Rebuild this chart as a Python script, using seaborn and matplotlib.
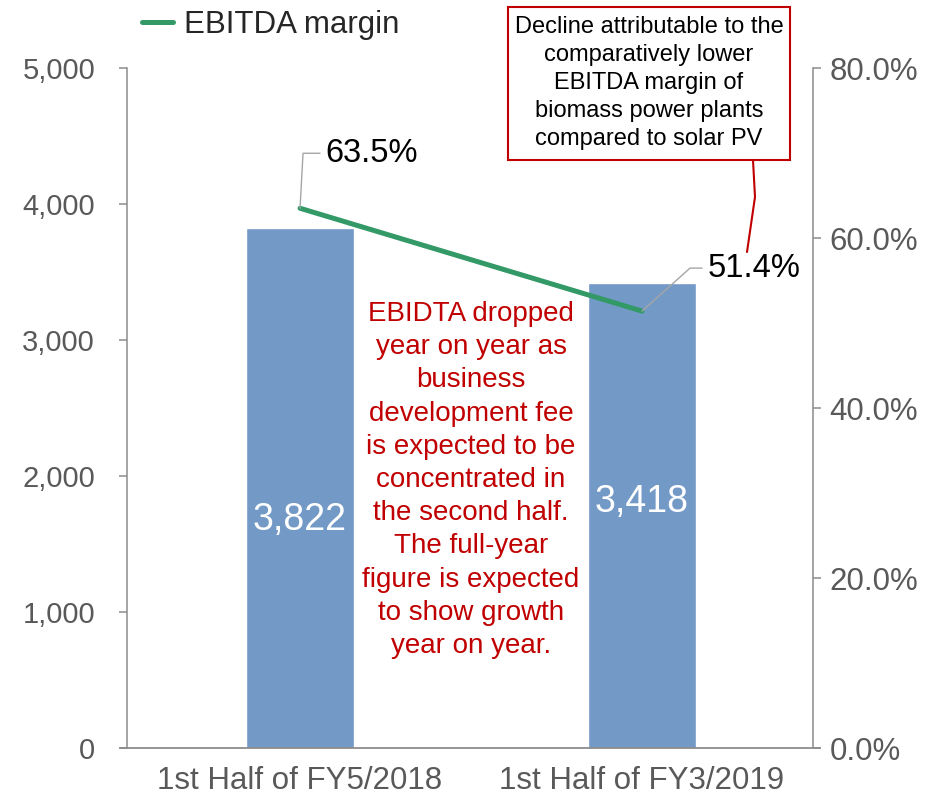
import numpy as np
import pandas as pd
import matplotlib
matplotlib.use('Agg')
import matplotlib.pyplot as plt
import seaborn as sns
from matplotlib.patches import Rectangle
from matplotlib.lines import Line2D

# data
periods = ['1st Half of FY5/2018', '1st Half of FY3/2019']
ebitda = [3822, 3418]
margin = [63.5, 51.4]  # EBITDA margin, %
left_ticks = [0, 1000, 2000, 3000, 4000, 5000]
right_ticks = [0, 20, 40, 60, 80]

note_mid = ('EBIDTA dropped\nyear on year as\nbusiness\ndevelopment fee\n'
            'is expected to be\nconcentrated in\nthe second half.\n'
            'The full-year\nfigure is expected\nto show growth\nyear on year.')
note_box = ('Decline attributable to the\ncomparatively lower\nEBITDA margin of\n'
            'biomass power plants\ncompared to solar PV')

BAR = '#7399C6'
GREEN = '#339966'
RED = '#C00000'
SPINE = '#8C8C8C'
TICK = '#595959'

sns.set_style('white')
plt.rcParams['font.family'] = ['Liberation Sans', 'DejaVu Sans']

W, H = 940, 798
fig = plt.figure(figsize=(W / 100, H / 100), dpi=100)
ax = fig.add_axes([127 / W, 50 / H, 686 / W, 680 / H])

df = pd.DataFrame({'period': periods, 'ebitda': ebitda})
sns.barplot(data=df, x='period', y='ebitda', ax=ax, color=BAR,
            saturation=1, width=0.316)
ax.set_xlim(-0.506, 1.5)
ax.set_ylim(0, 5000)
ax.set_xlabel('')
ax.set_ylabel('')
ax.set_yticks(left_ticks)
ax.set_yticklabels([f'{t:,}' for t in left_ticks])

ax2 = ax.twinx()
sns.lineplot(x=[0, 1], y=margin, ax=ax2, color=GREEN, lw=3.6,
             label='EBITDA margin', legend=False)
ax2.set_ylim(0, 80)
ax2.set_yticks(right_ticks)
ax2.set_yticklabels([f'{t:.1f}%' for t in right_ticks])
ax2.set_ylabel('')

for a in (ax, ax2):
    for s in a.spines.values():
        s.set_visible(False)
ax.spines['left'].set_visible(True)
ax2.spines['right'].set_visible(True)
ax.spines['left'].set_color(SPINE)
ax2.spines['right'].set_color(SPINE)
ax.spines['left'].set_linewidth(1.1)
ax2.spines['right'].set_linewidth(1.1)
ax.plot([-0.0102, 1.0102], [0, 0], transform=ax.transAxes, clip_on=False,
        color=SPINE, lw=1.3)

ax.tick_params(axis='y', left=True, direction='out', length=6, width=1.1,
               color=SPINE, labelsize=21, labelcolor=TICK, pad=17)
ax2.tick_params(axis='y', right=True, direction='out', length=6, width=1.1,
                color=SPINE, labelsize=22.5, labelcolor=TICK, pad=6)
ax.tick_params(axis='x', bottom=False, length=0, labelsize=22.5,
               labelcolor=TICK, pad=13)

# bar value labels
bar_label_y = [1680, 1810]
for i, v in enumerate(ebitda):
    ax.text(i, bar_label_y[i], f'{v:,}', color='white', fontsize=27,
            ha='center', va='center')

# margin labels with leader lines (offsets in pixels)
px_x = 2.006 / 686
px_y = 80 / 680
leaders = [(3, 55, 20, 25), (48, 43, 60, 66)]
for i, m in enumerate(margin):
    dx1, dy, dx2, dxt = leaders[i]
    ax2.plot([i, i + dx1 * px_x, i + dx2 * px_x],
             [m, m + dy * px_y, m + dy * px_y], color='#A6A6A6', lw=1)
    ax2.text(i + dxt * px_x, m + dy * px_y, f'{m:.1f}%', fontsize=23.5,
             ha='left', va='center', color='black')

# middle red note
ax.text(0.5, 1970, note_mid, color=RED, fontsize=20, ha='center',
        va='center', linespacing=1.36)

# boxed note top-right
fig.patches.append(Rectangle((508 / W, 1 - 160 / H), 282 / W, 153 / H,
                             transform=fig.transFigure, fill=False,
                             edgecolor=RED, lw=1.5))
fig.text(649 / W, 1 - 83 / H, note_box, fontsize=17, ha='center',
         va='center', linespacing=1.35, color='black')
fig.lines.append(Line2D([753 / W, 755 / W, 747 / W],
                        [1 - 160 / H, 1 - 197 / H, 1 - 252 / H],
                        transform=fig.transFigure, color=RED, lw=1.5))

# legend
handles, labels = ax2.get_legend_handles_labels()
fig.legend(handles, labels, loc='center left',
           bbox_to_anchor=(142 / W, 1 - 25 / H), frameon=False,
           fontsize=22.5, handlelength=1.0, handletextpad=0.35,
           borderpad=0, borderaxespad=0)

fig.savefig('out.png', dpi=100)
